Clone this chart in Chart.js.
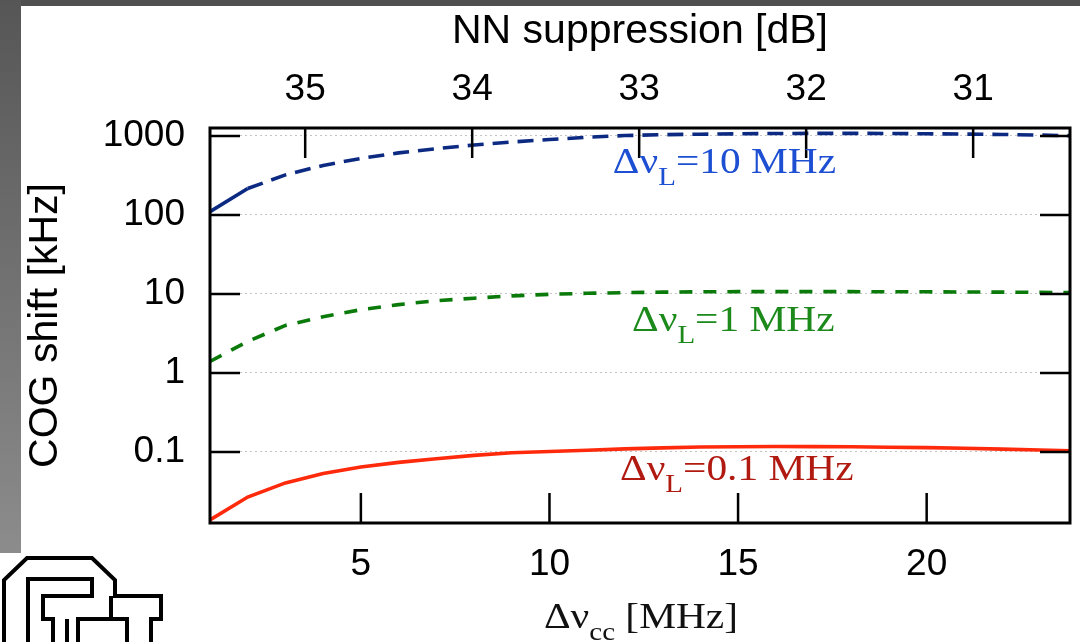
<!DOCTYPE html>
<html>
<head>
<meta charset="utf-8">
<script src="https://cdn.jsdelivr.net/npm/chart.js@4.4.1/dist/chart.umd.min.js"></script>
<style>
	body { margin: 0; background: #fff; }
	#wrap { position: relative; width: 1080px; height: 642px; overflow: hidden; background: #fff; }
	#band_top { position: absolute; left: 0; top: 0; width: 1080px; height: 6px; background: #505050; }
	#band_left { position: absolute; left: 0; top: 0; width: 21px; height: 553px; background: linear-gradient(#565656, #8c8c8c); }
	#logo { position: absolute; left: 0; top: 550px; }
	#myChart { position: absolute; left: 0; top: 0; }
</style>
</head>
<body>
<div id="wrap">
	<div id="band_top"></div>
	<div id="band_left"></div>
	<!-- institute logo, outline only -->
	<svg id="logo" width="170" height="92" viewBox="0 550 170 92">
		<g fill="none" stroke="#000" stroke-width="4" stroke-linejoin="miter">
			<path d="M4 650 V580 L27 558 H92 L115 580 V596 H161 V619 H151 V650" />
			<path d="M28 650 V579 H92 V596 H43 V619 H53 V650" />
			<path d="M78 650 V619 H111 V596" />
			<path d="M111 619 H127 V650" />
			<path d="M67 619 V650" />
		</g>
	</svg>
	<canvas id="myChart" width="1080" height="642"></canvas>
</div>
<script>
// detuning between the carriers, MHz
var detuning = [1, 2, 3, 4, 5, 6, 7, 8, 9, 10, 11, 12, 13, 14, 15, 16, 17, 18, 19, 20, 21, 22, 23, 24]

// centre-of-gravity shift in kHz for each laser linewidth
var cog_10mhz = [110, 216, 322, 424, 520, 611, 690, 769, 839, 903, 963, 1012, 1039, 1054, 1066, 1075, 1080, 1080, 1075, 1066, 1057, 1045, 1027, 1003]
var cog_1mhz = [1.40, 2.51, 4.0, 5.16, 6.33, 7.34, 8.22, 8.85, 9.46, 9.91, 10.2, 10.4, 10.55, 10.65, 10.7, 10.7, 10.7, 10.7, 10.68, 10.65, 10.6, 10.55, 10.48, 10.4]
var cog_01mhz = [0.0138, 0.0269, 0.0406, 0.0534, 0.0646, 0.0738, 0.0823, 0.0906, 0.098, 0.1015, 0.1054, 0.1094, 0.1127, 0.1154, 0.1167, 0.1174, 0.117, 0.1164, 0.115, 0.1137, 0.1114, 0.1088, 0.106, 0.1033]

var x_ticks = [5, 10, 15, 20]
var db_ticks = [31, 32, 33, 34, 35]
var y_ticks = [0.1, 1, 10, 100, 1000]

var sans = 'Liberation Sans'
var serif = 'Liberation Serif'

function points(ys){
	return detuning.map(function(x, i){ return {x: x, y: ys[i]} })
}

function set_ticks(list){
	return function(scale){
		scale.ticks = list.map(function(v){ return {value: v} })
	}
}

// text with subscripts: parts alternate normal / subscript
function draw_parts(ctx, parts, x, y, size, stretch, center){
	var widths = parts.map(function(p, i){
		ctx.font = (i % 2 ? size * 0.7 : size) + 'px "' + serif + '"'
		return ctx.measureText(p).width
	})
	var total = widths.reduce(function(a, b){ return a + b }, 0)
	ctx.save()
	ctx.translate(x, y)
	ctx.scale(stretch, 1)
	var cx = center ? -total / 2 : 0
	ctx.textAlign = 'left'
	ctx.textBaseline = 'alphabetic'
	parts.forEach(function(p, i){
		ctx.font = (i % 2 ? size * 0.7 : size) + 'px "' + serif + '"'
		ctx.fillText(p, cx, i % 2 ? size * 0.33 : 0)
		cx += widths[i]
	})
	ctx.restore()
}

var curve_labels = [
	{parts: ['\u0394\u03bd', 'L', '=10 MHz'], x: 11.68, y: 340, color: '#1d4fd3'},
	{parts: ['\u0394\u03bd', 'L', '=1 MHz'], x: 12.19, y: 3.4, color: '#1b8a1b'},
	{parts: ['\u0394\u03bd', 'L', '=0.1 MHz'], x: 11.87, y: 0.0442, color: '#b01a10'}
]

var frame = {
	id: 'frame',
	afterDatasetsDraw: function(chart){
		var ctx = chart.ctx
		var a = chart.chartArea
		var sx = chart.scales.x, sy = chart.scales.y, st = chart.scales.x2
		var len = 30
		ctx.save()
		ctx.strokeStyle = '#000'
		ctx.lineWidth = 2.5
		ctx.beginPath()
		// ticks point into the plot, mirrored on the right for y
		sy.ticks.forEach(function(t){
			var p = sy.getPixelForValue(t.value)
			ctx.moveTo(a.left, p); ctx.lineTo(a.left + len, p)
			ctx.moveTo(a.right, p); ctx.lineTo(a.right - len, p)
		})
		sx.ticks.forEach(function(t){
			var p = sx.getPixelForValue(t.value)
			ctx.moveTo(p, a.bottom); ctx.lineTo(p, a.bottom - len)
		})
		st.ticks.forEach(function(t){
			var p = st.getPixelForValue(t.value)
			ctx.moveTo(p, a.top); ctx.lineTo(p, a.top + len)
		})
		ctx.stroke()
		ctx.lineWidth = 3
		ctx.strokeRect(a.left, a.top, a.right - a.left, a.bottom - a.top)

		curve_labels.forEach(function(l){
			ctx.fillStyle = l.color
			draw_parts(ctx, l.parts, sx.getPixelForValue(l.x), sy.getPixelForValue(l.y), 36, 1.15, false)
		})

		// bottom axis title
		ctx.fillStyle = '#111'
		draw_parts(ctx, ['\u0394\u03bd', 'cc', ' [MHz]'], (a.left + a.right) / 2 + 1, 628, 36, 1.15, true)
		ctx.restore()
	}
}

var myChart = document.getElementById('myChart').getContext('2d')
var chart = new Chart(myChart, {
	type: 'line',
	data: {
		datasets: [
			{
				label: '10 MHz',
				data: points(cog_10mhz),
				borderColor: '#0c2a82',
				borderWidth: 3.6,
				borderDash: [16, 9],
				segment: {
					borderDash: function(c){ return c.p0DataIndex < 1 ? [] : [16, 9] }
				}
			},
			{
				label: '1 MHz',
				data: points(cog_1mhz),
				borderColor: '#0a7a0a',
				borderWidth: 3.6,
				borderDash: [13, 11]
			},
			{
				label: '0.1 MHz',
				data: points(cog_01mhz),
				borderColor: '#ff2a0c',
				borderWidth: 3.6
			}
		]
	},
	options: {
		responsive: false,
		animation: false,
		devicePixelRatio: 1,
		layout: {padding: {left: 0, right: 10, top: 0, bottom: 0}},
		plugins: {legend: {display: false}, tooltip: {enabled: false}},
		elements: {
			point: {radius: 0},
			line: {tension: 0, fill: false}
		},
		scales: {
			x: {
				type: 'linear',
				position: 'bottom',
				min: 1,
				max: 23.8,
				afterBuildTicks: set_ticks(x_ticks),
				afterFit: function(s){ s.height = 119 },
				grid: {display: false, drawTicks: false},
				border: {display: false},
				ticks: {color: '#000', padding: 20, font: {family: sans, size: 37}}
			},
			x2: {
				type: 'linear',
				position: 'top',
				reverse: true,
				min: 30.42,
				max: 35.57,
				afterBuildTicks: set_ticks(db_ticks),
				afterFit: function(s){ s.height = 128 },
				grid: {display: false, drawTicks: false},
				border: {display: false},
				ticks: {color: '#000', padding: 16, font: {family: sans, size: 37}},
				title: {display: true, text: 'NN suppression [dB]', color: '#000', padding: {top: 7, bottom: 0}, font: {family: sans, size: 41}}
			},
			y: {
				type: 'logarithmic',
				position: 'left',
				min: 0.01262,
				max: 1262,
				afterBuildTicks: set_ticks(y_ticks),
				afterFit: function(s){ s.width = 210 },
				grid: {color: '#c4c4c4', lineWidth: 1, drawTicks: false},
				border: {display: false, dash: [2, 3]},
				ticks: {
					color: '#000',
					padding: 25,
					font: {family: sans, size: 37},
					callback: function(v){ return String(v) }
				},
				title: {display: true, text: 'COG shift [kHz]', color: '#000', padding: {top: 21, bottom: 0}, font: {family: sans, size: 41}}
			}
		}
	},
	plugins: [frame]
})
</script>
</body>
</html>
